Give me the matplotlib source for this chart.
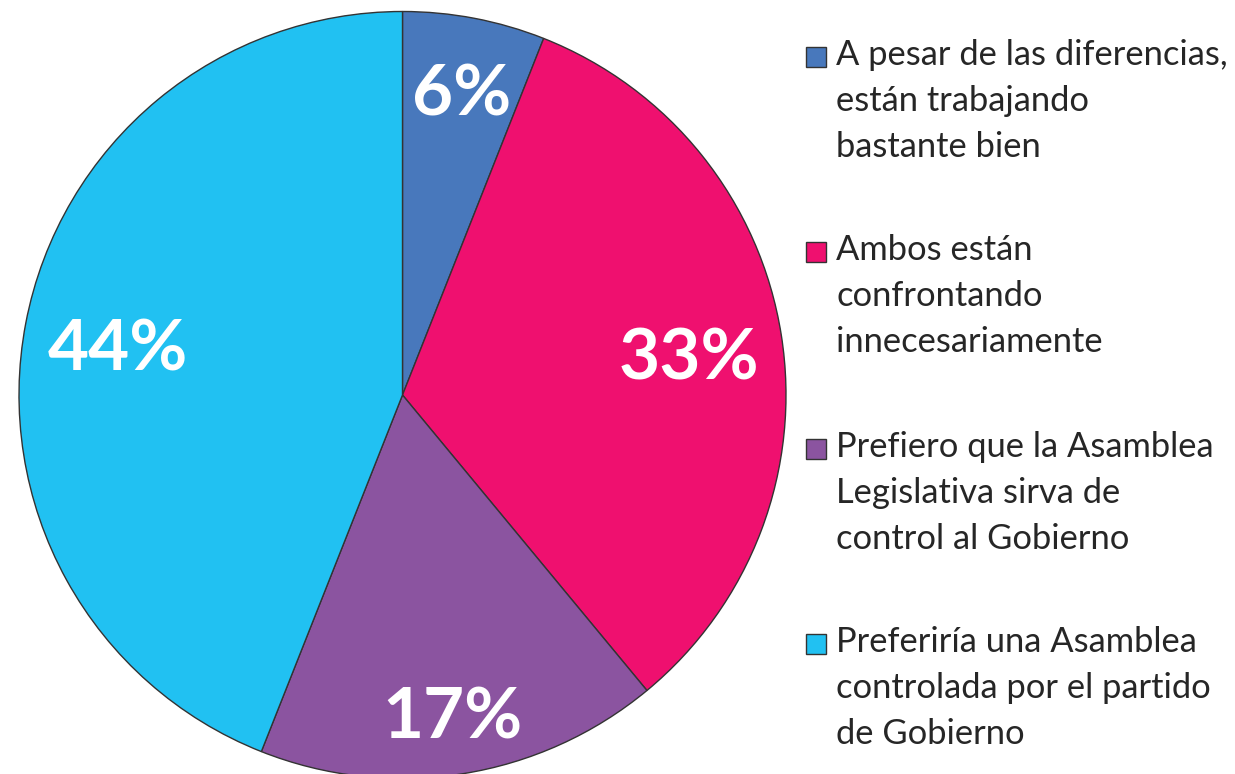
import matplotlib
matplotlib.use("Agg")
import matplotlib.pyplot as plt
import numpy as np
from matplotlib.patches import Rectangle

categories = [
    "A pesar de las diferencias,\nestán trabajando\nbastante bien",
    "Ambos están\nconfrontando\ninnecesariamente",
    "Prefiero que la Asamblea\nLegislativa sirva de\ncontrol al Gobierno",
    "Preferiría una Asamblea\ncontrolada por el partido\nde Gobierno",
]
values = [6, 33, 17, 44]
labels = ["6%", "33%", "17%", "44%"]
colors = ["#4878BC", "#EF106F", "#8B54A0", "#21C1F2"]

W, H = 1235, 774
fig = plt.figure(figsize=(W / 100, H / 100), dpi=100)
ax = fig.add_axes([0, 0, 1, 1])

cx, cy, R = 402.5, H - 395, 383.5
wedges, _ = ax.pie(values, colors=colors, startangle=90, counterclock=False,
                   center=(cx, cy), radius=R, frame=True,
                   wedgeprops=dict(edgecolor="#333333", linewidth=1.0))
ax.set_xlim(0, W)
ax.set_ylim(0, H)
ax.set_aspect("equal")
ax.axis("off")

dists = [0.82, 0.755, 0.83, 0.755]
for w, lab, d in zip(wedges, labels, dists):
    ang = np.deg2rad((w.theta1 + w.theta2) / 2)
    ax.text(cx + d * R * np.cos(ang), cy + d * R * np.sin(ang) - 9, lab,
            ha="center", va="center", color="white", fontsize=51,
            fontweight="bold", family="Lato")

tops = [65, 260, 457, 652]
for cat, col, t in zip(categories, colors, tops):
    ax.add_patch(Rectangle((806, H - t - 2), 20, 20, facecolor=col,
                           edgecolor="#333333", linewidth=1.0))
    for i, line in enumerate(cat.split("\n")):
        ax.text(836, H - t - 46 * i, line, ha="left", va="baseline",
                fontsize=24.8, family="Lato", color="#262626")

fig.savefig("out.png", dpi=100)
